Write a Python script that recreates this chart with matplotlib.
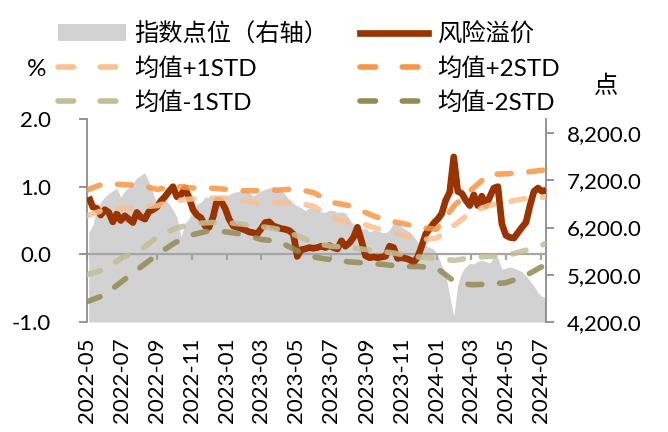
import matplotlib
matplotlib.use('Agg')
import matplotlib.pyplot as plt
from matplotlib.lines import Line2D
from matplotlib.patches import Patch
from matplotlib.ticker import FuncFormatter, FixedLocator
import pandas as pd

# ---------------- data ----------------
week_start = '2022-05-04'
n_weeks = 115

index_level = [
    6100, 6250, 6600, 6740, 6850, 6920, 6980, 7040, 6840, 6980,
    7060, 7140, 7250, 7310, 7360, 7170, 6950, 6700, 6780, 6810,
    6700, 6580, 6420, 6000, 6300, 6380, 6620, 6700, 6740, 6850,
    6830, 6830, 6880, 6880, 6840, 6900, 6940, 6960, 6980, 7000,
    6950, 6870, 6920, 6980, 7010, 7040, 7070, 7050, 7000, 6900,
    6790, 6710, 6660, 6620, 6560, 6620, 6610, 6580, 6530, 6520,
    6570, 6560, 6520, 6530, 6510, 6380, 6270, 6210, 6160, 6200,
    6110, 6140, 6130, 6100, 6090, 6150, 6300, 6320, 6220, 6160,
    6110, 6020, 5890, 5860, 5820, 5780, 5740, 5620, 5400, 5200,
    4750, 4320, 5000, 5250, 5370, 5440, 5430, 5490, 5510, 5480,
    5450, 5570, 5560, 5320, 5340, 5370, 5340, 5310, 5260, 5180,
    5070, 4960, 4820, 4740, 4720,
]

risk_premium = [
    0.85, 0.70, 0.68, 0.58, 0.66, 0.62, 0.48, 0.60, 0.50, 0.57,
    0.52, 0.47, 0.62, 0.55, 0.52, 0.63, 0.66, 0.70, 0.79, 0.85,
    0.93, 1.00, 0.85, 0.88, 0.98, 0.84, 0.66, 0.58, 0.54, 0.42,
    0.40, 0.55, 0.80, 0.78, 0.68, 0.52, 0.42, 0.40, 0.38, 0.36,
    0.33, 0.32, 0.30, 0.38, 0.47, 0.48, 0.42, 0.40, 0.38, 0.37,
    0.35, 0.30, -0.03, 0.07, 0.08, 0.10, 0.09, 0.10, 0.12, 0.10,
    0.13, 0.10, 0.08, 0.20, 0.12, 0.17, 0.25, 0.40, 0.20, -0.02,
    -0.05, -0.04, -0.05, -0.04, -0.03, 0.12, 0.10, -0.06, -0.05, -0.06,
    -0.08, -0.12, -0.04, 0.12, 0.30, 0.38, 0.46, 0.52, 0.60, 0.80,
    0.92, 1.44, 0.93, 0.90, 0.80, 0.72, 0.88, 0.72, 0.86, 0.72,
    0.85, 0.98, 1.00, 0.45, 0.28, 0.25, 0.24, 0.32, 0.40, 0.47,
    0.72, 0.93, 0.98, 0.93, 0.95,
]

band_start = '2022-05-01'
band_end_month = '2024-07-01'
band_last = '2024-07-10'
mean_plus1 = [0.57, 0.66, 0.68, 0.70, 0.72, 0.79, 0.82, 0.83, 0.83, 0.79,
              0.76, 0.77, 0.76, 0.71, 0.55, 0.47, 0.43, 0.35, 0.29, 0.21,
              0.24, 0.43, 0.62, 0.72, 0.77, 0.82, 0.84, 0.85]
mean_plus2 = [0.95, 1.05, 1.03, 1.02, 0.96, 1.01, 0.98, 0.98, 0.96, 0.94,
              0.94, 0.95, 0.97, 0.91, 0.77, 0.72, 0.61, 0.51, 0.46, 0.40,
              0.37, 0.72, 0.95, 1.18, 1.19, 1.21, 1.24, 1.25]
mean_minus1 = [-0.30, -0.22, -0.05, 0.05, 0.26, 0.38, 0.45, 0.47, 0.47, 0.44,
               0.41, 0.37, 0.28, 0.17, 0.12, 0.10, 0.07, 0.04, 0.00, -0.04,
               -0.06, -0.09, -0.05, -0.03, -0.02, 0.05, 0.13, 0.16]
mean_minus2 = [-0.70, -0.60, -0.40, -0.20, 0.00, 0.17, 0.29, 0.35, 0.33, 0.29,
               0.22, 0.19, 0.06, -0.04, -0.08, -0.11, -0.13, -0.15, -0.18, -0.18,
               -0.20, -0.40, -0.45, -0.44, -0.42, -0.33, -0.19, -0.15]

left_ticks = [-1.0, 0.0, 1.0, 2.0]
right_ticks = [4200, 5200, 6200, 7200, 8200]

labels = ['指数点位（右轴）', '均值+1STD', '均值-1STD', '风险溢价', '均值+2STD', '均值-2STD']

# ---------------- style ----------------
plt.rcParams['font.family'] = ['Lato', 'Noto Sans CJK SC', 'DejaVu Sans']

C_GRAY = '#D2D2D2'
C_RP = '#993300'
C_P1 = '#FAC090'
C_P2 = '#F79646'
C_M1 = '#C4BD97'
C_M2 = '#948A54'
C_AX = '#8C8C8C'
C_ZERO = '#A6A6A6'

LW_RP = 4.8
LW_B = 4.0

W, H = 668, 432
fig = plt.figure(figsize=(W / 100, H / 100), dpi=100)
ax = fig.add_axes([87 / W, 1 - 322 / H, (546 - 87) / W, (322 - 119) / H])
ax2 = ax.twinx()
ax.set_zorder(ax2.get_zorder() + 1)
ax.patch.set_visible(False)

dates = pd.date_range(week_start, periods=n_weeks, freq='7D')
band_dates = list(pd.date_range(band_start, band_end_month, freq='MS')) + [pd.Timestamp(band_last)]

# index area on right axis
ax2.fill_between(dates, 4200, index_level, color=C_GRAY, lw=0)
ax2.set_ylim(4200, 8500)
ax2.yaxis.set_major_locator(FixedLocator(right_ticks))
ax2.yaxis.set_major_formatter(FuncFormatter(lambda v, p: f'{v:,.1f}'))

# zero line with tick marks
xt = pd.date_range(band_start, band_end_month, freq='2MS')
ax.axhline(0, color=C_ZERO, lw=1.6, zorder=1)
ax.vlines(xt, -0.09, 0, color=C_ZERO, lw=1.6, zorder=1)

# risk premium
ax.plot(dates, risk_premium, color=C_RP, lw=LW_RP, solid_joinstyle='round',
        solid_capstyle='butt', zorder=3)

dash = (0, (2.5, 3.2))
band_kw = dict(lw=LW_B, ls=dash, dash_capstyle='round', alpha=0.85, zorder=4)
ax.plot(band_dates, mean_plus1, color=C_P1, **band_kw)
ax.plot(band_dates, mean_plus2, color=C_P2, **band_kw)
ax.plot(band_dates, mean_minus1, color=C_M1, **band_kw)
ax.plot(band_dates, mean_minus2, color=C_M2, **band_kw)

ax.set_ylim(-1.0, 2.0)
ax.yaxis.set_major_locator(FixedLocator(left_ticks))
ax.yaxis.set_major_formatter(FuncFormatter(lambda v, p: f'{v:.1f}'))
ax.set_xlim(pd.Timestamp(band_start), pd.Timestamp(band_last))
ax.set_xticks(xt)
ax.set_xticklabels([d.strftime('%Y-%m') for d in xt], rotation=90, ha='center', va='top')

for s in ['top', 'bottom', 'right']:
    ax.spines[s].set_visible(False)
ax.spines['left'].set_color(C_AX)
ax.spines['left'].set_linewidth(1.3)
for s in ['top', 'bottom', 'left']:
    ax2.spines[s].set_visible(False)
ax2.spines['right'].set_color(C_AX)
ax2.spines['right'].set_linewidth(1.3)

ax.tick_params(axis='x', length=0, pad=11, labelsize=16)
ax.tick_params(axis='y', length=6, width=1.3, color=C_AX, pad=20, labelsize=16)
ax2.tick_params(axis='y', length=6, width=1.3, color=C_AX, pad=9, labelsize=16)

# legend
lk = dict(ls=(0, (2.8, 4.8)), dash_capstyle='round')
handles = [
    Patch(facecolor=C_GRAY, edgecolor='none'),
    Line2D([], [], color=C_P1, lw=LW_B, **lk),
    Line2D([], [], color=C_M1, lw=LW_B, **lk),
    Line2D([], [], color=C_RP, lw=LW_RP),
    Line2D([], [], color=C_P2, lw=LW_B, **lk),
    Line2D([], [], color=C_M2, lw=LW_B, **lk),
]
fig.legend(handles, labels, ncol=2, loc='upper left',
           bbox_to_anchor=(58 / W, 1 - 22 / H), frameon=False, fontsize=17.5,
           handlelength=2.8, handletextpad=0.35, columnspacing=1.3,
           labelspacing=0.47, borderpad=0, borderaxespad=0)

fig.text(37 / W, 1 - 69 / H, '%', ha='center', va='center', fontsize=17.5)
fig.text(606 / W, 1 - 86 / H, '点', ha='center', va='center', fontsize=17.5)

fig.savefig('out.png', dpi=100)
